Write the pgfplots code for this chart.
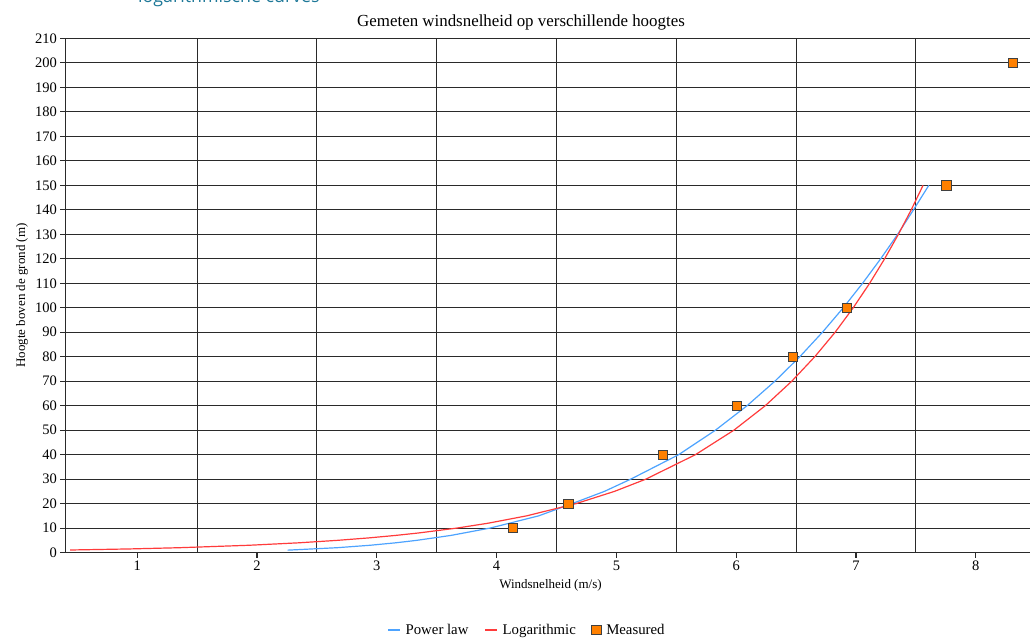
\documentclass[border=0pt]{standalone}
\usepackage{fontspec}
\setmainfont{Liberation Serif}
\newfontfamily\opensans{Open Sans}
\usepackage{pgfplots}
\pgfplotsset{compat=1.18}
\definecolor{powerblue}{HTML}{4DA3FF}
\definecolor{logred}{HTML}{FF3B3B}
\definecolor{measorange}{HTML}{FF8000}
\definecolor{headteal}{HTML}{1E7898}
\definecolor{gridc}{HTML}{2A2A2A}
\pgfplotsset{shortline/.style={legend image code/.code={\draw[##1] (0pt,0pt) -- (12pt,0pt);}}}
\begin{document}
\begin{tikzpicture}
\begin{axis}[
  at={(65.3pt,84.4pt)}, anchor=south west,
  scale only axis, width=970.4pt, height=514.2pt,
  xmin=0.4, xmax=8.5, ymin=0, ymax=210,
  xtick={1,...,8}, ytick={0,10,...,210},
  minor xtick={1.5,2.5,...,7.5},
  xminorgrids=true, ymajorgrids=true,
  minor tick length=0pt, major tick length=5pt,
  tick align=outside, xtick pos=bottom, ytick pos=left,
  axis line style={gridc, line width=1.1pt},
  grid style={gridc, line width=1.1pt},
  minor grid style={gridc, line width=1.1pt},
  major tick style={gridc, line width=1.1pt},
  tick label style={font=\fontsize{14.5}{17}\selectfont},
  /pgf/number format/assume math mode=true,
  xlabel={Windsnelheid (m/s)}, ylabel={Hoogte boven de grond (m)},
  label style={font=\fontsize{13}{15}\selectfont},
  xlabel style={at={(axis description cs:0.5,-0.063)}, anchor=center},
  ylabel style={at={(axis description cs:-0.0447,0.5)}, anchor=center},
  legend style={at={(0.4758,-0.1505)}, anchor=center, draw=none, fill=none,
    legend columns=3, font=\fontsize{14.8}{17}\selectfont,
    /tikz/every odd column/.append style={column sep=3pt},
    /tikz/every even column/.append style={column sep=14pt}},
]
\addplot[color=powerblue, line width=1.2pt, shortline]
  coordinates {(2.256,1)(2.669,2)(2.945,3)(3.158,4)(3.333,5)(3.617,7)(3.944,10)(4.351,15)(4.630,20)(4.900,25)(5.120,30)(5.520,40)(5.827,50)(6.091,60)(6.323,70)(6.531,80)(6.720,90)(6.894,100)(7.055,110)(7.206,120)(7.348,130)(7.480,140)(7.608,150)};
\addlegendentry{Power law}
\addplot[color=logred, line width=1.2pt, shortline]
  coordinates {(0.44,1.06)(0.94,1.5)(1.353,2)(1.936,3)(2.350,4)(2.670,5)(2.933,6)(3.154,7)(3.346,8)(3.667,10)(3.929,12)(4.250,15)(4.663,20)(4.984,25)(5.246,30)(5.660,40)(5.981,50)(6.243,60)(6.464,70)(6.656,80)(6.826,90)(6.977,100)(7.114,110)(7.239,120)(7.354,130)(7.461,140)(7.560,150)};
\addlegendentry{Logarithmic}
\addplot[only marks, mark=square*, mark size=4.7pt,
  mark options={fill=measorange, draw=black!75, line width=0.8pt}]
  coordinates {(4.134,10)(4.598,20)(5.386,40)(6.008,60)(6.471,80)(6.922,100)(7.753,150)(8.312,200)};
\addlegendentry{Measured}
\end{axis}
\node[anchor=base, font=\fontsize{16.9}{20}\selectfont] at (521pt,610.3pt) {Gemeten windsnelheid op verschillende hoogtes};
\node[anchor=base west, inner sep=0pt, text=headteal, font=\opensans\fontsize{17.8}{21}\selectfont] at (138pt,634.5pt) {logarithmische curves};
\pgfresetboundingbox
\useasboundingbox (0,0) rectangle (1030pt,637pt);
\end{tikzpicture}
\end{document}
